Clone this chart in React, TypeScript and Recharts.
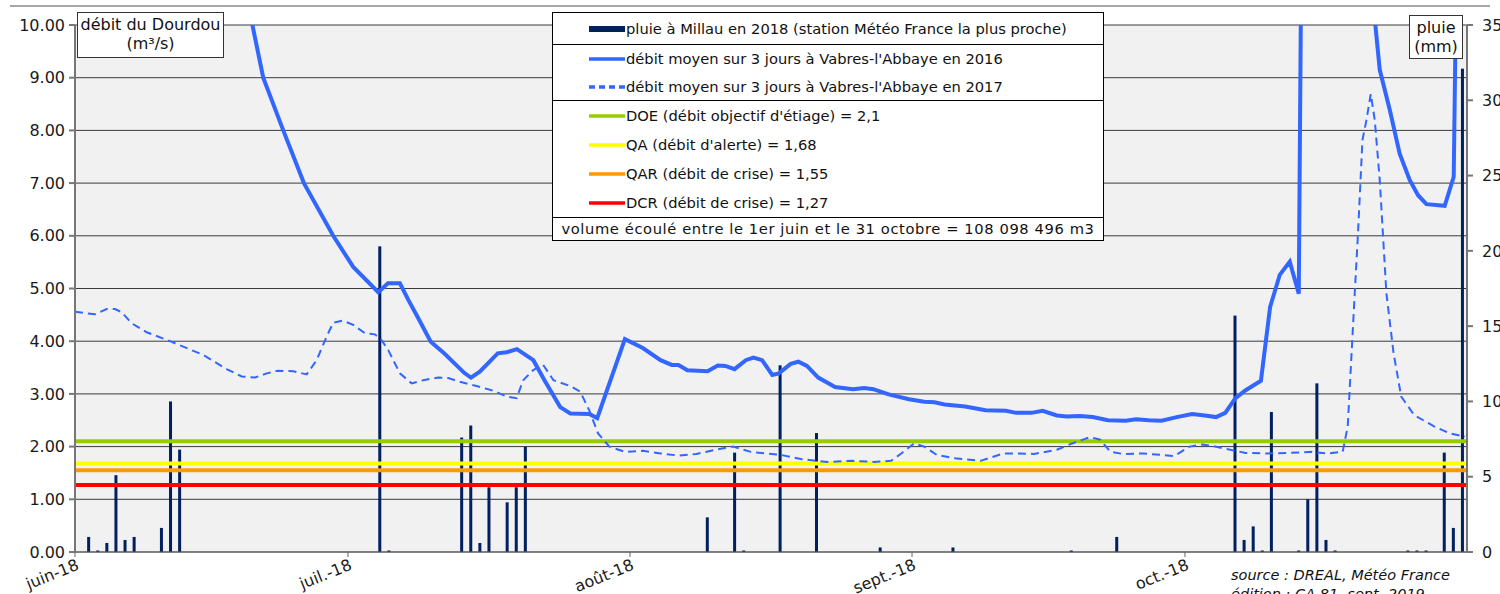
import {
  Bar,
  CartesianGrid,
  ComposedChart,
  Line,
  ReferenceLine,
  XAxis,
  YAxis,
} from "recharts";

const NAVY = "#002060";
const BLUE = "#3366FF";
const FONT = "'DejaVu Sans', Verdana, sans-serif";

// x axis: days since 1 June 2018 (Nov 1 = 153)
const MONTH_TICKS = [0, 30, 61, 92, 122];
const MONTH_LABELS = ["juin-18", "juil.-18", "août-18", "sept.-18", "oct.-18"];
const FLOW_TICKS = [0, 1, 2, 3, 4, 5, 6, 7, 8, 9, 10];
const RAIN_TICKS = [0, 5, 10, 15, 20, 25, 30, 35];

// daily rain at Millau (mm), day index since 1 June
const RAIN_DAYS = [
  1, 2, 3, 4, 5, 6, 9, 10, 11, 33, 34, 42, 43, 44, 45, 47, 48, 49, 69, 72, 73,
  77, 81, 88, 96, 109, 114, 127, 128, 129, 130, 131, 134, 135, 136, 137, 138,
  146, 147, 148, 150, 151, 152,
];
const RAIN_MM = [
  1.0, 0.1, 0.6, 5.1, 0.8, 1.0, 1.6, 10.0, 6.8, 20.3, 0.1, 7.6, 8.4, 0.6, 4.3,
  3.3, 4.3, 7.0, 2.3, 6.6, 0.1, 12.4, 7.9, 0.3, 0.3, 0.1, 1.0, 15.7, 0.8, 1.7,
  0.1, 9.3, 0.1, 3.5, 11.2, 0.8, 0.1, 0.1, 0.1, 0.1, 6.6, 1.6, 32.1,
];

// [day, m3/s]
const FLOW_2016: [number, number][] = [
  [0.5, 24], [5, 19], [10, 15.5], [15, 12.3], [19.5, 10.0], [20.69, 9.0],
  [22.89, 8.0], [25.16, 7.0], [28.38, 6.0], [30.58, 5.41], [33.33, 4.93],
  [34.4, 5.1], [35.71, 5.1], [36.65, 4.78], [37.63, 4.47], [39.1, 3.99],
  [40.57, 3.77], [42.78, 3.4], [43.52, 3.31], [44.49, 3.42], [46.46, 3.77],
  [47.44, 3.79], [48.57, 3.85], [50.38, 3.64], [51.6, 3.26], [53.33, 2.75],
  [54.45, 2.63], [56.52, 2.62], [57.4, 2.54], [60.44, 4.04], [62.41, 3.87],
  [64.36, 3.64], [65.59, 3.55], [66.33, 3.55], [67.31, 3.45], [69.53, 3.43],
  [70.65, 3.54], [71.48, 3.53], [72.49, 3.47], [73.73, 3.64], [74.57, 3.69],
  [75.52, 3.64], [76.64, 3.36], [77.36, 3.39], [78.66, 3.57], [79.51, 3.61],
  [80.45, 3.53], [81.69, 3.31], [83.54, 3.13], [85.51, 3.09], [86.74, 3.11],
  [87.75, 3.09], [89.43, 2.99], [91.67, 2.9], [93.35, 2.85], [94.47, 2.84],
  [95.59, 2.8], [97.84, 2.76], [100.08, 2.69], [102.32, 2.68], [103.44, 2.64],
  [105.12, 2.64], [106.36, 2.68], [107.92, 2.59], [109.04, 2.57],
  [110.45, 2.58], [111.86, 2.56], [113.54, 2.5], [115.49, 2.49],
  [116.62, 2.52], [118.02, 2.5], [119.42, 2.49], [121.1, 2.56], [122.78, 2.62],
  [124.19, 2.59], [125.42, 2.56], [126.43, 2.64], [127.55, 2.92],
  [128.67, 3.07], [130.35, 3.25], [131.36, 4.65], [132.42, 5.26],
  [133.52, 5.51], [134.51, 4.9], [135.5, 28], [138, 30], [141.5, 12.5],
  [143.41, 9.15], [144.51, 8.39], [145.6, 7.56], [146.7, 7.06], [147.62, 6.77],
  [148.54, 6.6], [150.55, 6.57], [151.54, 7.12], [152.5, 20],
];

const FLOW_2017: [number, number][] = [
  [0, 4.56], [2.2, 4.51], [3.48, 4.61], [4.4, 4.61], [5.13, 4.55], [6.23, 4.34],
  [7.88, 4.17], [10.44, 4.0], [14.1, 3.74], [16.67, 3.47], [18.32, 3.33],
  [19.78, 3.31], [21.07, 3.39], [22.34, 3.44], [23.99, 3.43], [25.46, 3.37],
  [26.56, 3.64], [27.66, 4.09], [28.38, 4.35], [29.42, 4.39], [30.58, 4.31],
  [31.87, 4.15], [32.97, 4.13], [33.7, 4.02], [34.43, 3.83], [35.71, 3.39],
  [37.0, 3.2], [38.27, 3.26], [39.92, 3.31], [41.02, 3.3], [42.31, 3.23],
  [44.14, 3.15], [45.97, 3.06], [47.44, 2.95], [48.54, 2.92], [49.26, 3.26],
  [50.36, 3.45], [51.46, 3.55], [52.59, 3.26], [54.55, 3.14], [55.54, 3.04],
  [56.52, 2.69], [57.49, 2.25], [58.73, 2.0], [60.44, 1.9], [62.41, 1.92],
  [64.36, 1.87], [66.33, 1.83], [68.29, 1.86], [70.36, 1.94], [72.33, 2.0],
  [74.29, 1.9], [77.65, 1.84], [79.89, 1.76], [82.7, 1.71], [85.51, 1.73],
  [87.75, 1.71], [89.7, 1.73], [90.82, 1.87], [92.23, 2.06], [93.35, 2.0],
  [94.75, 1.84], [96.71, 1.78], [99.52, 1.73], [102.04, 1.87], [103.73, 1.87],
  [105.41, 1.86], [107.92, 1.94], [109.6, 2.06], [111.57, 2.18],
  [112.69, 2.13], [113.81, 1.9], [115.22, 1.86], [117.46, 1.87],
  [120.82, 1.82], [122.51, 2.0], [123.91, 2.04], [125.31, 2.0], [126.99, 1.94],
  [128.67, 1.88], [130.91, 1.87], [133.15, 1.88], [135.96, 1.9],
  [137.65, 1.87], [139.33, 1.9], [139.89, 2.38], [140.66, 4.91],
  [141.02, 6.05], [141.51, 7.82], [141.95, 8.2], [142.42, 8.69], [142.86, 8.2],
  [143.41, 7.06], [144.14, 4.91], [144.93, 3.77], [145.77, 2.95],
  [147.18, 2.6], [149.42, 2.38], [151.1, 2.25], [152.78, 2.19],
];

const THRESHOLD_NAMES = [
  "DOE (débit objectif d'étiage) = 2,1",
  "QA (débit d'alerte) = 1,68",
  "QAR (débit de crise) = 1,55",
  "DCR (débit de crise) = 1,27",
];
const THRESHOLD_VALUES = [2.1, 1.68, 1.55, 1.27];
const THRESHOLD_COLORS = ["#99CC00", "#FFFF00", "#FF9900", "#FF0000"];

const RAIN_NAME = "pluie à Millau en 2018 (station Météo France la plus proche)";
const FLOW_2016_NAME = "débit moyen sur 3 jours à Vabres-l'Abbaye en 2016";
const FLOW_2017_NAME = "débit moyen sur 3 jours à Vabres-l'Abbaye en 2017";
const VOLUME_TEXT =
  "volume écoulé entre le 1er juin et le 31 octobre = 108 098 496 m3";

const rainData = RAIN_DAYS.map((d, i) => ({ t: d + 0.5, rain: RAIN_MM[i] }));
const flow2016Data = FLOW_2016.map(([t, q]) => ({ t, q }));
const flow2017Data = FLOW_2017.map(([t, q]) => ({ t, q }));

function MonthTick({ x, y, payload }: any) {
  const label = MONTH_LABELS[MONTH_TICKS.indexOf(payload.value)];
  const ax = x + 5;
  const ay = y + 10;
  return (
    <text
      x={ax}
      y={ay}
      textAnchor="end"
      fontSize={16}
      fontFamily={FONT}
      fill="#1a1a1a"
      transform={`rotate(-22 ${ax} ${ay})`}
    >
      {label}
    </text>
  );
}

// the numeric x axis gives a hairline band, so draw each rain bar 3px wide round its centre
function RainBar(props: any) {
  const { x, y, width, height } = props;
  if (!height) return null;
  const cx = x + width / 2;
  return <rect x={cx - 1.5} y={y} width={3} height={height} fill={NAVY} />;
}

function Swatch({ color, dashed, thick }: { color: string; dashed?: boolean; thick?: boolean }) {
  return (
    <svg width={36} height={8} style={{ position: "absolute", left: 36, top: "50%", marginTop: -4 }}>
      <line
        x1={0}
        x2={36}
        y1={4}
        y2={4}
        stroke={color}
        strokeWidth={thick ? 6 : 3.5}
        strokeDasharray={dashed ? "6 4" : undefined}
      />
    </svg>
  );
}

function Row({ h, children }: { h: number; children: any }) {
  return (
    <div style={{ position: "relative", height: h, lineHeight: `${h}px`, paddingLeft: 73, whiteSpace: "nowrap" }}>
      {children}
    </div>
  );
}

function LegendBox() {
  const sep = { borderTop: "1px solid #000" };
  return (
    <div
      style={{
        position: "absolute",
        left: 552,
        top: 12,
        width: 550,
        background: "#fff",
        border: "1px solid #000",
        fontFamily: FONT,
        fontSize: 14.7,
        color: "#111",
      }}
    >
      <Row h={31}>
        <Swatch color={NAVY} thick />
        {RAIN_NAME}
      </Row>
      <div style={sep}>
        <Row h={28}>
          <Swatch color={BLUE} />
          {FLOW_2016_NAME}
        </Row>
        <Row h={27}>
          <Swatch color={BLUE} dashed />
          {FLOW_2017_NAME}
        </Row>
      </div>
      <div style={sep}>
        {THRESHOLD_NAMES.map((name, i) => (
          <Row key={name} h={29}>
            <Swatch color={THRESHOLD_COLORS[i]} />
            {name}
          </Row>
        ))}
      </div>
      <div
        style={{
          ...sep,
          height: 22,
          lineHeight: "22px",
          textAlign: "center",
          whiteSpace: "nowrap",
          letterSpacing: 0.6,
        }}
      >
        {VOLUME_TEXT}
      </div>
    </div>
  );
}

const titleBox = {
  position: "absolute" as const,
  background: "#fff",
  border: "1px solid #333",
  fontFamily: FONT,
  fontSize: 16,
  lineHeight: "19px",
  textAlign: "center" as const,
  color: "#111",
};

export default function App() {
  return (
    <div
      style={{
        position: "absolute",
        left: 0,
        top: 0,
        width: 1500,
        height: 594,
        overflow: "hidden",
        background: "#fff",
      }}
    >
      <div style={{ position: "absolute", left: 10, top: 5, width: 1480, borderTop: "2px solid #a6a6a6" }} />
      <ComposedChart
        width={1520}
        height={594}
        data={rainData}
        margin={{ top: 25, right: 0, bottom: 0, left: 0 }}
      >
        <CartesianGrid vertical={false} stroke="#3a3a3a" fill="#F1F1F1" />
        <XAxis
          dataKey="t"
          type="number"
          domain={[0, 153]}
          ticks={MONTH_TICKS}
          interval={0}
          height={42}
          tickSize={5}
          tickMargin={2}
          stroke="#666"
          tick={<MonthTick />}
          allowDataOverflow
        />
        <YAxis
          domain={[0, 10]}
          ticks={FLOW_TICKS}
          interval={0}
          allowDataOverflow
          width={75}
          tickSize={6}
          tickMargin={4}
          stroke="#777"
          strokeWidth={2}
          tickFormatter={(v: number) => v.toFixed(2)}
          tick={{ fontSize: 16, fontFamily: FONT, fill: "#1a1a1a" }}
        />
        <YAxis
          yAxisId="rain"
          orientation="right"
          domain={[0, 35]}
          ticks={RAIN_TICKS}
          interval={0}
          width={53}
          tickSize={6}
          tickMargin={9}
          stroke="#777"
          strokeWidth={2}
          tick={{ fontSize: 16, fontFamily: FONT, fill: "#1a1a1a", textAnchor: "start" }}
        />
        <Bar
          yAxisId="rain"
          dataKey="rain"
          fill={NAVY}
          shape={<RainBar />}
          isAnimationActive={false}
        />
        {THRESHOLD_VALUES.map((v, i) => (
          <ReferenceLine key={v} y={v} stroke={THRESHOLD_COLORS[i]} strokeWidth={4} />
        ))}
        <Line
          data={flow2017Data}
          dataKey="q"
          type="linear"
          stroke={BLUE}
          strokeWidth={2}
          strokeDasharray="8 5"
          dot={false}
          isAnimationActive={false}
        />
        <Line
          data={flow2016Data}
          dataKey="q"
          type="linear"
          stroke={BLUE}
          strokeWidth={4}
          dot={false}
          isAnimationActive={false}
        />
      </ComposedChart>
      <div style={{ ...titleBox, left: 77, top: 12, width: 145, height: 42, paddingTop: 2 }}>
        débit du Dourdou
        <br />
        (m³/s)
      </div>
      <div style={{ ...titleBox, left: 1409, top: 15, width: 52, height: 40, paddingTop: 2 }}>
        pluie
        <br />
        (mm)
      </div>
      <div
        style={{
          position: "absolute",
          left: 1231,
          top: 566,
          fontFamily: FONT,
          fontStyle: "italic",
          fontSize: 14.5,
          lineHeight: "19px",
          color: "#111",
          whiteSpace: "nowrap",
        }}
      >
        source : DREAL, Météo France
        <br />
        édition : CA 81, sept. 2019
      </div>
      <LegendBox />
    </div>
  );
}
